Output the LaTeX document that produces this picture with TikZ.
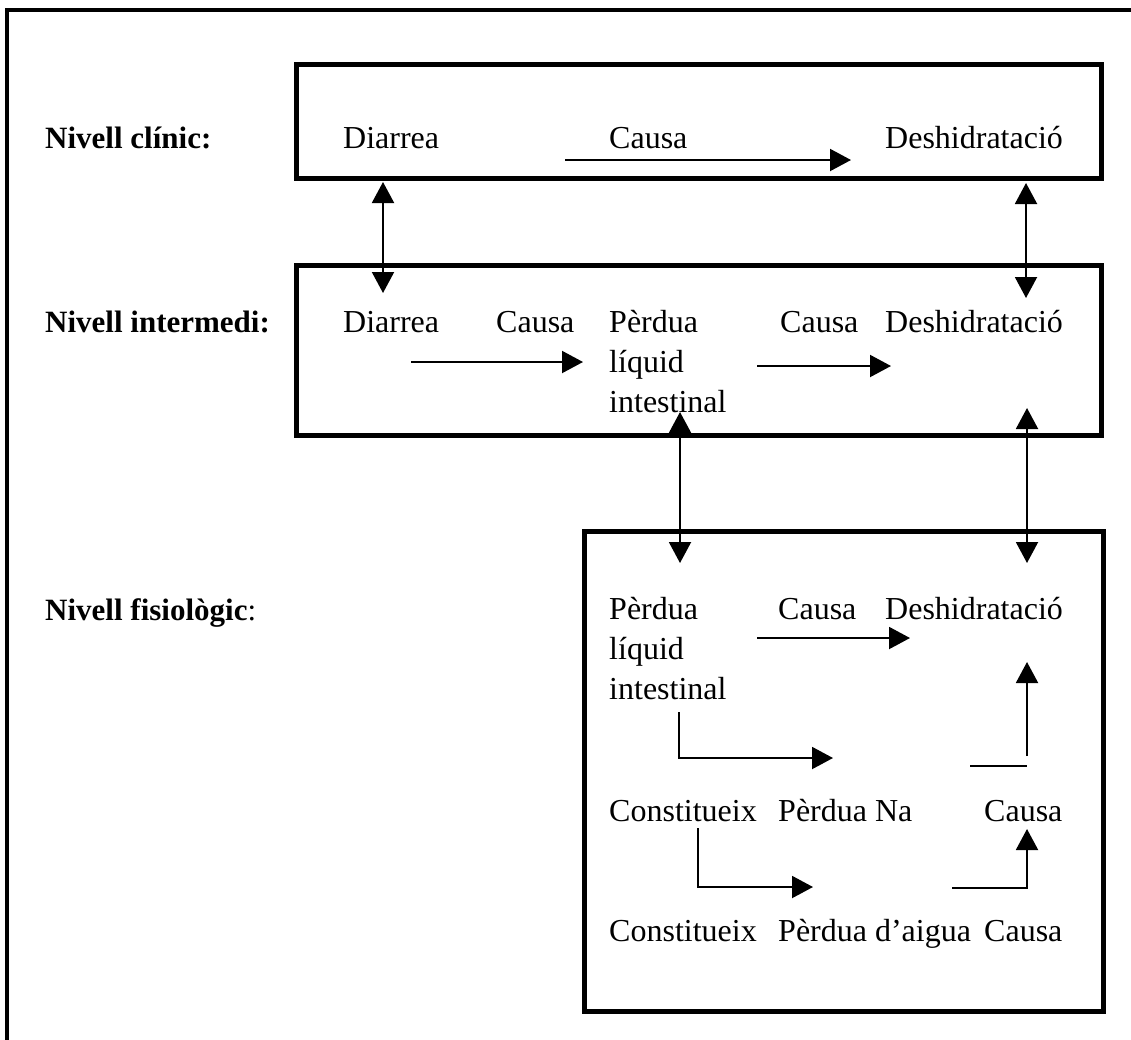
\documentclass[tikz,border=0pt]{standalone}
\usepackage{fontspec}
\setmainfont{Liberation Serif}
\usetikzlibrary{arrows.meta}
\begin{document}
\begin{tikzpicture}[x=1pt,y=-1pt,
  lbl/.style={anchor=base west, inner sep=0pt, font=\fontsize{32}{40}\selectfont},
  lvl/.style={anchor=base west, inner sep=0pt, font=\fontsize{31}{40}\selectfont\bfseries},
  frame/.style={line width=5pt},
  tip/.tip={Triangle[width=22pt,length=21pt]},
  link/.style={line width=2pt, -tip},
  twoway/.style={line width=2pt, tip-tip},
  bare/.style={line width=2pt}]
\useasboundingbox (0,0) rectangle (1131,1039);
\begin{scope}
\clip (0,0) rectangle (1131,1039);
% outer frame, running past the right and bottom edges
\draw[line width=4pt] (7,1060) -- (7,10) -- (1150,10);
\end{scope}

% level boxes
\draw[frame] (296,64) rectangle (1101,178);
\draw[frame] (296,265) rectangle (1101,435);
\draw[frame] (584,531) rectangle (1103,1011);

% level labels
\node[lvl] (lc) at (45,148) {Nivell clínic:};
\node[lvl] (li) at (45,332) {Nivell intermedi:};
\node[lvl] (lf) at (45,620) {Nivell fisiològic\textmd{:}};

% clinical level
\node[lbl] (c1) at (343,148) {Diarrea};
\node[lbl] (c2) at (609,148) {Causa};
\node[lbl] (c3) at (885,148) {Deshidratació};

% intermediate level
\node[lbl] (i1) at (343,332) {Diarrea};
\node[lbl] (i2) at (496,332) {Causa};
\node[lbl] (i3a) at (609,332) {Pèrdua};
\node[lbl] (i3b) at (609,372) {líquid};
\node[lbl] (i3c) at (609,412) {intestinal};
\node[lbl] (i4) at (780,332) {Causa};
\node[lbl] (i5) at (885,332) {Deshidratació};

% physiological level
\node[lbl] (f1a) at (609,619) {Pèrdua};
\node[lbl] (f1b) at (609,659) {líquid};
\node[lbl] (f1c) at (609,699) {intestinal};
\node[lbl] (f2) at (778,619) {Causa};
\node[lbl] (f3) at (885,619) {Deshidratació};
\node[lbl] (f4) at (609,821) {Constitueix};
\node[lbl] (f5) at (778,821) {Pèrdua Na};
\node[lbl] (f6) at (984,821) {Causa};
\node[lbl] (f7) at (609,941) {Constitueix};
\node[lbl] (f8) at (778,941) {Pèrdua d’aigua};
\node[lbl] (f9) at (984,941) {Causa};

% connector end points
\coordinate (a1s) at (565,160);  \coordinate (a1e) at (851,160);
\coordinate (v1t) at (383,182);  \coordinate (v1b) at (383,293);
\coordinate (v2t) at (1026,183); \coordinate (v2b) at (1026,298);
\coordinate (a2s) at (411,362);  \coordinate (a2e) at (583,362);
\coordinate (a3s) at (757,366);  \coordinate (a3e) at (891,366);
\coordinate (v3t) at (680,412);  \coordinate (v3b) at (680,563);
\coordinate (v4t) at (1027,408); \coordinate (v4b) at (1027,563);
\coordinate (a4s) at (757,638);  \coordinate (a4e) at (910,638);
\coordinate (e1s) at (679,712);  \coordinate (e1e) at (833,758);
\coordinate (u1s) at (1027,756); \coordinate (u1e) at (1027,662);
\coordinate (h1s) at (970,766);  \coordinate (h1e) at (1027,766);
\coordinate (e2s) at (698,828);  \coordinate (e2e) at (813,887);
\coordinate (e3s) at (952,888);  \coordinate (e3e) at (1027,829);

% connectors
\draw[link] (a1s) -- (a1e);
\draw[twoway] (v1t) -- (v1b);
\draw[twoway] (v2t) -- (v2b);
\draw[link] (a2s) -- (a2e);
\draw[link] (a3s) -- (a3e);
\draw[twoway] (v3t) -- (v3b);
\draw[twoway] (v4t) -- (v4b);
\draw[link] (a4s) -- (a4e);
\draw[link] (e1s) |- (e1e);
\draw[link] (u1s) -- (u1e);
\draw[bare] (h1s) -- (h1e);
\draw[link] (e2s) |- (e2e);
\draw[link] (e3s) -| (e3e);
\end{tikzpicture}
\end{document}
